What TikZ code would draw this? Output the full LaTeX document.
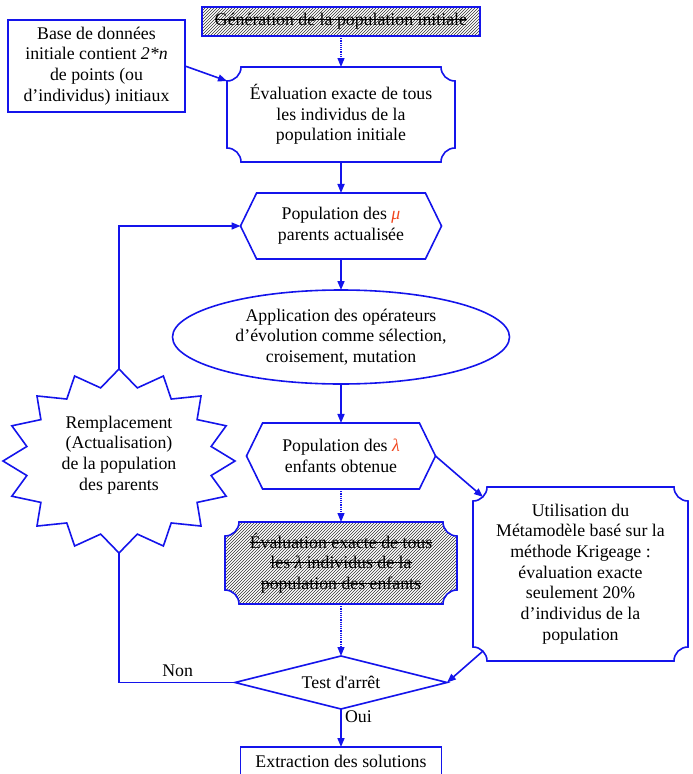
\documentclass[tikz,border=0pt]{standalone}
\usepackage{fontspec}
\setmainfont{Liberation Serif}
\usetikzlibrary{shapes.geometric, shapes.symbols, arrows.meta, positioning, backgrounds, patterns}

\definecolor{flowblue}{RGB}{20,20,235}
\definecolor{greekred}{RGB}{240,70,30}

% struck-through text
\newcommand{\barre}[1]{\setbox0\hbox{#1}\rlap{\rule[0.3em]{\wd0}{1.1pt}}\box0}

% box with concave corners, drawn round a named node
\newcommand{\plaque}[2][]{%
  \draw[line, #1] ([xshift=14pt]#2.north west) -- ([xshift=-14pt]#2.north east)
    arc[start angle=180, end angle=270, radius=14pt] -- ([yshift=14pt]#2.south east)
    arc[start angle=90, end angle=180, radius=14pt] -- ([xshift=14pt]#2.south west)
    arc[start angle=0, end angle=90, radius=14pt] -- ([yshift=-14pt]#2.north west)
    arc[start angle=270, end angle=360, radius=14pt] -- cycle;}

\begin{document}
\begin{tikzpicture}[
    x=1pt, y=1pt,
    font=\fontsize{17.8}{20.7}\selectfont,
    every node/.style={outer sep=0pt},
    line/.style={draw=flowblue, line width=1.6pt},
    arrow/.style={line, -{Triangle[length=9pt, width=7pt]}},
    dotarrow/.style={draw=flowblue, line width=1.2pt, densely dotted, -{Triangle[length=9pt, width=7pt]}},
    box/.style={rectangle, line, align=center, inner sep=0pt},
    plain/.style={rectangle, align=center, inner sep=0pt},
    hexa/.style={signal, signal to=west and east, signal pointer angle=128, line, align=center, inner sep=0pt},
    hatch/.style={pattern=north east lines, pattern color=black!80}
]
\useasboundingbox (0,0) rectangle (693,-774);

% Main column
\node[box, hatch, minimum width=278pt, minimum height=29pt] (gen) at (341,-21.5) {\barre{Génération de la population initiale}};
\node[plain, minimum width=228pt, minimum height=95pt, below=31pt of gen] (eval0) {Évaluation exacte de tous\\les individus de la\\population initiale};
\node[hexa, minimum width=201pt, minimum height=66pt, below=31pt of eval0] (hexmu) {Population des \textcolor{greekred}{\textit{μ}}\\parents actualisée};
\node[ellipse, line, align=center, inner sep=0pt, minimum width=337pt, minimum height=94pt, below=31pt of hexmu] (appl) {Application des opérateurs\\d’évolution comme sélection,\\croisement, mutation};
\node[hexa, minimum width=189pt, minimum height=66pt, below=39pt of appl] (hexlam) {Population des \textcolor{greekred}{\textit{λ}}\\enfants obtenue};
\node[plain, minimum width=232pt, minimum height=82pt, below=33pt of hexlam] (eval1) {\barre{Évaluation exacte de tous}\\\barre{les \textit{λ} individus de la}\\\barre{population des enfants}};
\node[diamond, line, aspect=4, inner sep=0pt, minimum width=212pt, minimum height=53pt, below=52pt of eval1] (test) {Test d\textquotesingle arrêt};
\node[box, minimum width=201pt, minimum height=34pt, text depth=6pt, below=38pt of test] (extr) {Extraction des solutions};

% Side nodes
\node[box, minimum width=177pt, minimum height=92pt] (base) at (96.5,-66) {Base de données\\initiale contient \textit{2*n}\\de points (ou\\d’individus) initiaux};
\node[plain, minimum width=215pt, minimum height=174pt] (meta) at (580.5,-574) {Utilisation du\\Métamodèle basé sur la\\méthode Krigeage :\\évaluation exacte\\seulement 20\%\\d’individus de la\\population};
\node[plain, minimum width=232pt, minimum height=184pt, text depth=16pt] (remp) at (119,-461) {Remplacement\\(Actualisation)\\de la population\\des parents};

% Labels
\node[above left=5pt and 41pt of test.west, inner sep=1pt] (non) {Non};
\node[below right=1pt and 3pt of test.south, inner sep=1pt] (oui) {Oui};

% Outlines
\begin{scope}[on background layer]
  \plaque{eval0}
  \plaque[hatch]{eval1}
  \plaque{meta}
  \draw[line, shift={(remp.center)}] (90:116pt and 92pt)
    \foreach \i [evaluate=\i as \a using {90+11.25*\i},
                 evaluate=\i as \k using {1-0.19*mod(\i,2)}] in {1,...,31}
      { -- (\a:{116pt*\k} and {92pt*\k}) } -- cycle;
\end{scope}

% Arrows
\draw[dotarrow] (gen) -- (eval0);
\draw[arrow] (base.east) -- ([yshift=-14pt]eval0.north west);
\draw[arrow] (eval0) -- (hexmu);
\draw[arrow] (hexmu) -- (appl);
\draw[arrow] (appl) -- (hexlam);
\draw[dotarrow] (hexlam) -- (eval1);
\draw[dotarrow] (eval1) -- (test);
\draw[arrow] (test) -- (extr);
\draw[arrow] (hexlam.east) -- ([shift={(10pt,-10pt)}]meta.north west);
\draw[arrow] ([shift={(10pt,10pt)}]meta.south west) -- (test.east);
\draw[line] (test.west) -| (remp.south);
\draw[arrow] (remp.north) |- (hexmu.west);

\end{tikzpicture}
\end{document}
